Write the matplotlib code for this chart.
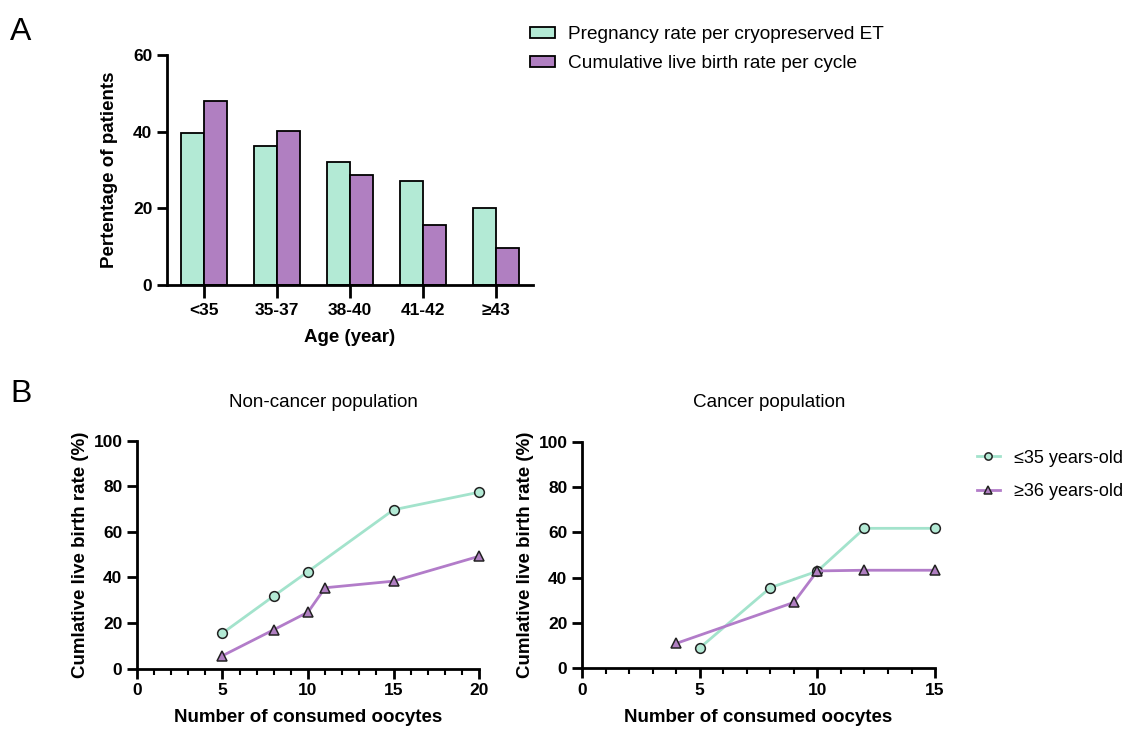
import matplotlib.pyplot as plt
import numpy as np
from matplotlib.ticker import MultipleLocator

plt.rcParams['font.family'] = ['Liberation Sans', 'DejaVu Sans']

# panel A data
age_groups = ['<35', '35-37', '38-40', '41-42', '\u226543']
pregnancy_rate = [39.7, 36.2, 32.1, 27.2, 20.2]
cum_live_birth = [48.1, 40.2, 28.7, 15.7, 9.7]

# panel B data, non-cancer population
nc_young_x = [5, 8, 10, 15, 20]
nc_young_y = [15.6, 31.9, 42.6, 69.7, 77.4]
nc_old_x = [5, 8, 10, 11, 15, 20]
nc_old_y = [5.7, 17.1, 24.8, 35.5, 38.4, 49.3]

# panel B data, cancer population
c_young_x = [5, 8, 10, 12, 15]
c_young_y = [9.0, 35.6, 42.9, 61.8, 61.8]
c_old_x = [4, 9, 10, 12, 15]
c_old_y = [11.0, 29.1, 43.0, 43.3, 43.3]

green = '#b3ead5'
purple = '#b07fc1'
green_line = '#a3e3cc'
purple_line = '#b27cc9'

fig = plt.figure(figsize=(11.33, 7.29), dpi=100)

def style_axes(ax):
    for s in ['top', 'right']:
        ax.spines[s].set_visible(False)
    for s in ['left', 'bottom']:
        ax.spines[s].set_linewidth(2.0)
    ax.tick_params(which='major', direction='out', width=2.0, length=7,
                   labelsize=12.5)
    for lab in ax.get_xticklabels() + ax.get_yticklabels():
        lab.set_fontweight('bold')

# ---- panel A ----
axA = fig.add_axes([0.1474, 0.609, 0.323, 0.3156])
x = np.arange(len(age_groups))
w = 0.315
axA.bar(x - w / 2, pregnancy_rate, w, color=green, edgecolor='black',
        linewidth=1.3, label='Pregnancy rate per cryopreserved ET')
axA.bar(x + w / 2, cum_live_birth, w, color=purple, edgecolor='black',
        linewidth=1.3, label='Cumulative live birth rate per cycle')
axA.set_xlim(-0.5, len(age_groups) - 0.5)
axA.set_ylim(0, 60)
axA.set_yticks([0, 20, 40, 60])
axA.set_xticks(x)
axA.set_xticklabels(age_groups)
style_axes(axA)
axA.tick_params(axis='x', length=9, pad=4)
axA.set_xlabel('Age (year)', fontsize=13.5, fontweight='bold', labelpad=8)
axA.set_ylabel('Pertentage of patients', fontsize=13.5, fontweight='bold',
               labelpad=11)
axA.legend(loc='upper left', bbox_to_anchor=(0.946, 1.2), frameon=False,
           fontsize=13.7, handlelength=1.3, handleheight=0.5,
           handletextpad=0.68, labelspacing=0.62)

# ---- panel B ----
def line_panel(rect, x1, y1, x2, y2, xmax):
    ax = fig.add_axes(rect)
    ax.plot(x1, y1, color=green_line, lw=2, marker='o', ms=7,
            mfc=green, mec='#222222', mew=1.1, label='\u226435 years-old')
    ax.plot(x2, y2, color=purple_line, lw=2, marker='^', ms=7,
            mfc=purple, mec='#222222', mew=1.1, label='\u226536 years-old')
    ax.set_xlim(0, xmax)
    ax.set_ylim(0, 100)
    ax.set_yticks(range(0, 101, 20))
    ax.xaxis.set_major_locator(MultipleLocator(5))
    ax.xaxis.set_minor_locator(MultipleLocator(1))
    style_axes(ax)
    ax.tick_params(axis='x', which='minor', direction='out', width=1.5,
                   length=4.5)
    ax.set_xlabel('Number of consumed oocytes', fontsize=13.5,
                  fontweight='bold', labelpad=8)
    ax.set_ylabel('Cumlative live birth rate (%)', fontsize=13.5,
                  fontweight='bold', labelpad=3)
    for ln in ax.lines:
        ln.set_clip_on(False)
    return ax

axB1 = line_panel([0.1209, 0.0827, 0.3019, 0.3128], nc_young_x, nc_young_y,
                  nc_old_x, nc_old_y, 20)
axB2 = line_panel([0.5137, 0.0832, 0.3116, 0.3108], c_young_x, c_young_y,
                  c_old_x, c_old_y, 15)
axB2.legend(loc='upper left', bbox_to_anchor=(1.072, 1.037), frameon=False,
            fontsize=13, handlelength=1.3, handletextpad=0.75,
            labelspacing=0.9, markerscale=0.75)

fig.text(323 / 1133, 1 - 402 / 729, 'Non-cancer population', fontsize=13.6,
         ha='center', va='center')
fig.text(769 / 1133, 1 - 402 / 729, 'Cancer population', fontsize=13.6,
         ha='center', va='center')

fig.text(0.009, 0.945, 'A', fontsize=23)
fig.text(0.009, 0.448, 'B', fontsize=23)

fig.savefig('out.png', dpi=100)
